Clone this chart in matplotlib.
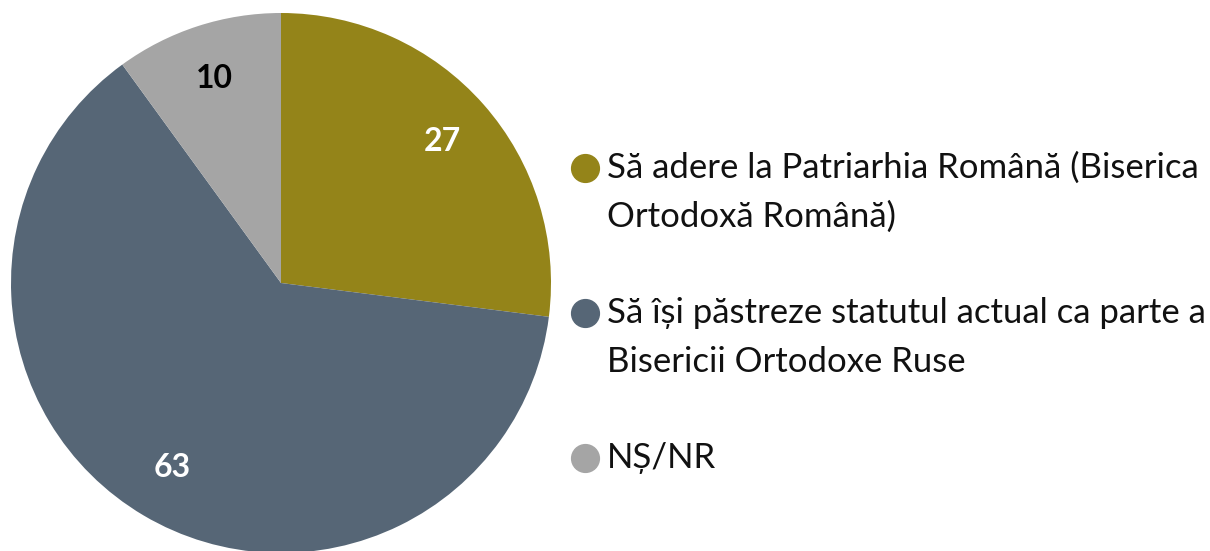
import matplotlib
matplotlib.use("Agg")
import matplotlib.pyplot as plt
from matplotlib.lines import Line2D

plt.rcParams['font.family'] = ['Lato', 'DejaVu Sans']

# data
labels = ["Să adere la Patriarhia Română (Biserica\nOrtodoxă Română)",
          "Să își păstreze statutul actual ca parte a\nBisericii Ortodoxe Ruse",
          "NȘ/NR"]
values = [27, 63, 10]
colors = ["#948419", "#566676", "#a5a5a5"]
label_colors = ["white", "white", "black"]

W, H = 1210, 551
fig = plt.figure(figsize=(W / 100, H / 100), dpi=100)

# pie: center ~(281, 283) px, radius ~270 px
ax = fig.add_axes([11 / W, (H - 553) / H, 540 / W, 540 / H])
wedges, texts, autotexts = ax.pie(values, colors=colors, startangle=90, counterclock=False,
                                  autopct=lambda p: "%d" % round(p), pctdistance=0.795,
                                  radius=1.0, wedgeprops=dict(linewidth=0))
for t, c in zip(autotexts, label_colors):
    t.set_color(c)
    t.set_fontsize(23)
    t.set_fontweight("bold")
ax.set_xlim(-1, 1)
ax.set_ylim(-1, 1)
ax.set_aspect("equal")
ax.axis("off")

# legend drawn by hand so the marker sits on the first line
rows = [168, 313, 458]
for lab, col, y in zip(labels, colors, rows):
    fig.add_artist(Line2D([585 / W], [1 - y / H], marker="o", markersize=20,
                          color=col, linestyle="none", transform=fig.transFigure))
    for i, line in enumerate(lab.split("\n")):
        fig.text(607 / W, 1 - (y + i * 49) / H, line, fontsize=25, va="center",
                 ha="left", color="#111111")

fig.savefig("out.png", dpi=100)
